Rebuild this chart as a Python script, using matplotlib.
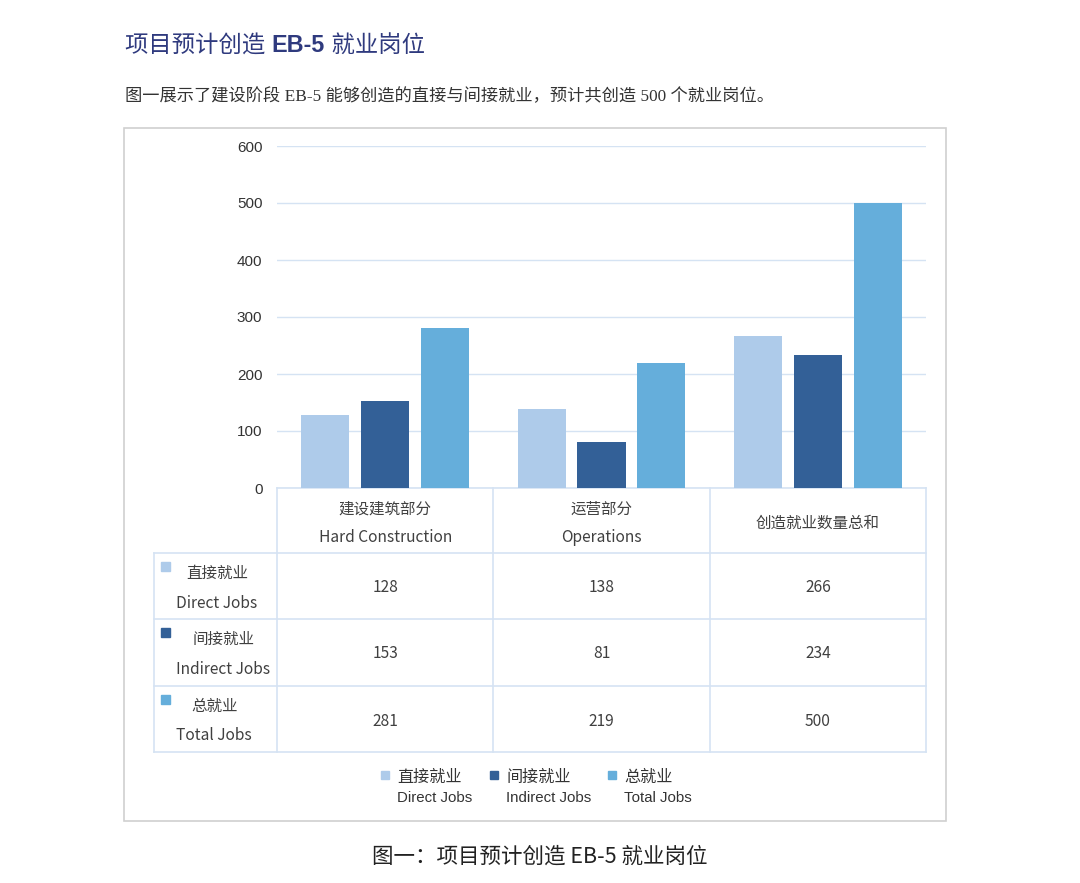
#!/usr/bin/env python3

"""
# plot.py

Projected EB-5 jobs: grouped bars with a data table below.
"""

import matplotlib.pyplot as plt
from matplotlib.patches import Rectangle

categories_cn = ['建设建筑部分', '运营部分', '创造就业数量总和']
categories_en = ['Hard Construction', 'Operations', '']
series_cn = ['直接就业', '间接就业', '总就业']
series_en = ['Direct Jobs', 'Indirect Jobs', 'Total Jobs']
direct_jobs = [128, 138, 266]
indirect_jobs = [153, 81, 234]
total_jobs = [281, 219, 500]
y_ticks = [0, 100, 200, 300, 400, 500, 600]

COLORS = ['#aecbea', '#336097', '#65aedb']
GRID = '#d5e3f3'
TEXT = '#404040'
SANS = ['Noto Sans CJK SC', 'DejaVu Sans']
W, H = 1080, 883

plt.rcParams['font.family'] = SANS


def main():
    series = [direct_jobs, indirect_jobs, total_jobs]
    fig = plt.figure(figsize=(W / 100, H / 100), dpi=100)

    # overlay in pixel coordinates for frame, table and legend
    over = fig.add_axes([0, 0, 1, 1])
    over.set_xlim(0, W)
    over.set_ylim(H, 0)
    over.axis('off')

    over.add_patch(Rectangle((124, 128), 822, 693, fill=False,
                             edgecolor='#d0d0d0', linewidth=1.2))

    # title: bold only on "EB-5"
    renderer = fig.canvas.get_renderer()
    x = 125
    for part, weight in [('项目预计创造 ', 'normal'), ('EB-5', 'bold'),
                         (' 就业岗位', 'normal')]:
        t = over.text(x, 45, part, fontsize=16.8, color='#2f3a7e',
                      fontweight=weight, va='center', ha='left',
                      family=['Liberation Sans', 'Noto Sans CJK SC'])
        bb = t.get_window_extent(renderer)
        x += bb.width
    over.text(125, 97, '图一展示了建设阶段 EB-5 能够创造的直接与间接就业，预计共创造 500 个就业岗位。',
              fontsize=12.4, color='#333333', va='center',
              family=['Liberation Serif', 'Noto Sans CJK SC'])
    over.text(540, 857, '图一：项目预计创造 EB-5 就业岗位', fontsize=15.5,
              color='#222222', ha='center', va='center')

    # bar axes
    ax_l, ax_r, ax_b, ax_t = 277, 926, 488, 146
    ax = fig.add_axes([ax_l / W, 1 - ax_b / H, (ax_r - ax_l) / W,
                       (ax_b - ax_t) / H])
    ax.set_xlim(-0.5, len(categories_cn) - 0.5)
    ax.set_ylim(0, 600)
    offsets = [-0.277, 0, 0.277]
    for values, off, color in zip(series, offsets, COLORS):
        ax.bar([i + off for i in range(len(values))], values, width=0.222,
               color=color, zorder=3)
    ax.set_yticks(y_ticks)
    ax.set_xticks([])
    ax.tick_params(axis='y', length=0, pad=10.5, labelsize=11,
                   labelcolor='#333333')
    for label in ax.get_yticklabels():
        label.set_family(['Liberation Sans'])
    ax.grid(axis='y', color=GRID, linewidth=1, zorder=0)
    for s in ax.spines.values():
        s.set_visible(False)
    ax.patch.set_alpha(0)

    # data table
    cw = (ax_r - ax_l) / 3
    row_tops = [488, 553, 619, 686, 752]
    left = 154
    for y in row_tops[1:]:
        over.plot([left, ax_r], [y, y], color=GRID, lw=1.2)
    over.plot([ax_l, ax_r], [488, 488], color=GRID, lw=1.2)
    for i in range(4):
        xv = ax_l + i * cw
        over.plot([xv, xv], [488, 752], color=GRID, lw=1.2)
    over.plot([left, left], [553, 752], color=GRID, lw=1.2)

    fs = 11.2
    for i, (cn, en) in enumerate(zip(categories_cn, categories_en)):
        cx = ax_l + (i + 0.5) * cw
        if en:
            over.text(cx, 509, cn, fontsize=fs, color=TEXT, ha='center', va='center')
            over.text(cx, 538, en, fontsize=fs, color=TEXT, ha='center', va='center')
        else:
            over.text(cx, 523, cn, fontsize=fs, color=TEXT, ha='center', va='center')

    label_x = [217, 224, 215]
    for r, (values, cn, en, color) in enumerate(zip(series, series_cn,
                                                    series_en, COLORS)):
        top = row_tops[r + 1]
        over.add_patch(Rectangle((161, top + 9), 9, 9, color=color))
        over.text(label_x[r], top + 20, cn, fontsize=fs, color=TEXT,
                  ha='center', va='center')
        over.text(176, top + 50, en, fontsize=fs, color=TEXT,
                  ha='left', va='center')
        for i, v in enumerate(values):
            over.text(ax_l + (i + 0.5) * cw, top + 35, str(v), fontsize=fs,
                      color=TEXT, ha='center', va='center')

    # legend
    for x0, cn, en, color in zip([381, 490, 608], series_cn, series_en, COLORS):
        over.add_patch(Rectangle((x0, 771), 8, 8, color=color))
        over.text(x0 + 16, 777, cn, fontsize=11.6, color='#333333',
                  ha='left', va='center')
        over.text(x0 + 16, 798, en, fontsize=10.8, color='#333333',
                  ha='left', va='center', family=['Liberation Sans'])

    fig.savefig('out.png', dpi=100)


if __name__ == '__main__':
    main()
